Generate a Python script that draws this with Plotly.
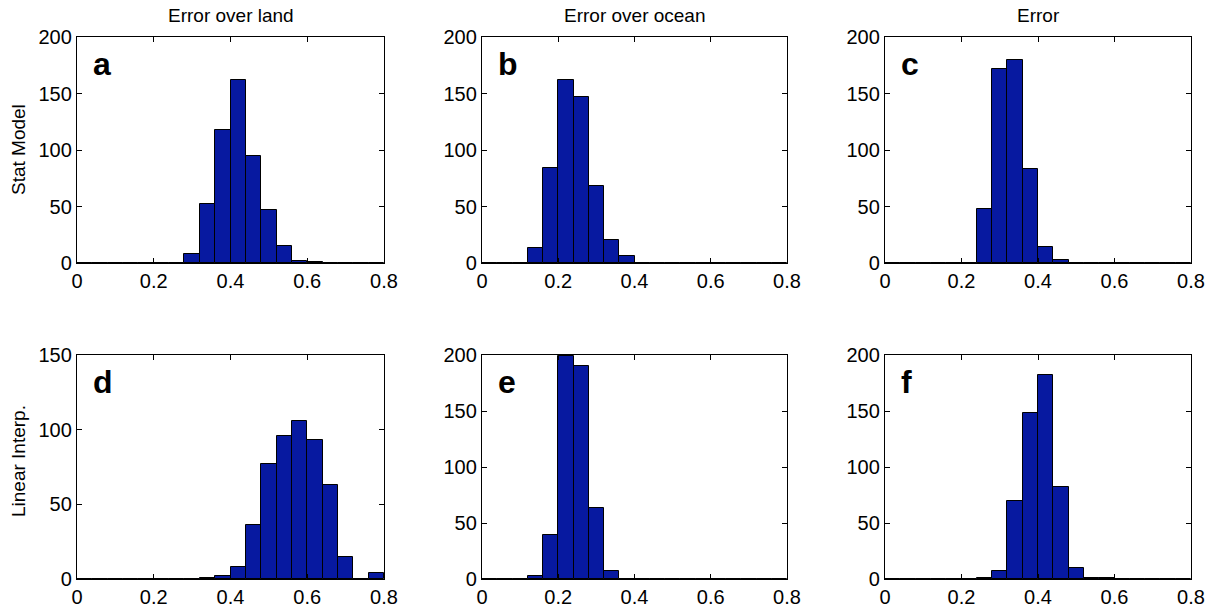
import plotly.graph_objects as go

# Histogram bins: 20 bins of width 0.04 spanning 0 to 0.8
bin_centers = [0.02, 0.06, 0.10, 0.14, 0.18, 0.22, 0.26, 0.30, 0.34, 0.38,
               0.42, 0.46, 0.50, 0.54, 0.58, 0.62, 0.66, 0.70, 0.74, 0.78]
bin_width = 0.04

column_titles = ["Error over land", "Error over ocean", "Error"]
row_labels = ["Stat Model", "Linear Interp."]
panel_letters = ["a", "b", "c", "d", "e", "f"]

# Counts per bin
counts_a = [0, 0, 0, 0, 0, 0, 0, 8, 52, 118, 162, 95, 47, 15, 2, 1, 0, 0, 0, 0]
counts_b = [0, 0, 0, 13, 84, 162, 147, 68, 20, 6, 0, 0, 0, 0, 0, 0, 0, 0, 0, 0]
counts_c = [0, 0, 0, 0, 0, 0, 48, 172, 180, 83, 14, 3, 0, 0, 0, 0, 0, 0, 0, 0]
counts_d = [0, 0, 0, 0, 0, 0, 0, 0, 1, 2, 8, 36, 77, 96, 106, 93, 63, 15, 0, 4]
counts_e = [0, 0, 0, 3, 39, 199, 190, 63, 7, 0, 0, 0, 0, 0, 0, 0, 0, 0, 0, 0]
counts_f = [0, 0, 0, 0, 0, 0, 1, 7, 70, 148, 182, 82, 10, 1, 1, 0, 0, 0, 0, 0]

x_tick_vals = [0, 0.2, 0.4, 0.6, 0.8]
x_tick_text = ["0", "0.2", "0.4", "0.6", "0.8"]
y_max = [200, 200, 200, 150, 200, 200]
y_tick_vals = [[0, 50, 100, 150, 200]] * 3 + [[0, 50, 100, 150]] + [[0, 50, 100, 150, 200]] * 2

all_counts = [counts_a, counts_b, counts_c, counts_d, counts_e, counts_f]

W, H = 1209, 609
# Plot-area rectangles in pixels: (left, right) per column, (top, bottom) per row
col_px = [(77, 384), (482, 787), (885, 1191)]
row_px = [(37, 263), (355, 579)]
row_label_center = [150, 461]

BAR_COLOR = "#0719a0"
FONT = "Liberation Sans, Arial, Helvetica, sans-serif"

fig = go.Figure()
annotations = []

for i, counts in enumerate(all_counts):
    r, c = divmod(i, 3)
    n = i + 1
    xa = "x" if n == 1 else f"x{n}"
    ya = "y" if n == 1 else f"y{n}"
    fig.add_trace(go.Bar(
        x=bin_centers, y=counts, width=bin_width,
        marker=dict(color=BAR_COLOR, line=dict(color="black", width=1)),
        xaxis=xa, yaxis=ya, showlegend=False, hoverinfo="x+y",
    ))
    left, right = col_px[c]
    top, bottom = row_px[r]
    axis_common = dict(
        showline=True, linecolor="black", linewidth=1.3, mirror="ticks",
        ticks="inside", ticklen=5, tickwidth=1, tickcolor="black",
        showgrid=False, zeroline=False, automargin=False,
        tickfont=dict(family=FONT, size=20, color="black"),
    )
    fig.layout[f"xaxis{n if n > 1 else ''}"] = dict(
        axis_common,
        domain=[left / W, right / W], anchor=ya, range=[0, 0.8],
        tickvals=x_tick_vals, ticktext=x_tick_text, ticklabelstandoff=0,
    )
    fig.layout[f"yaxis{n if n > 1 else ''}"] = dict(
        axis_common,
        domain=[1 - bottom / H, 1 - top / H], anchor=xa, range=[0, y_max[i]],
        tickvals=y_tick_vals[i], ticktext=[str(v) for v in y_tick_vals[i]],
        ticklabelstandoff=0,
    )
    # Bold panel letter in the upper-left corner
    annotations.append(dict(
        text=f"<b>{panel_letters[i]}</b>", xref="paper", yref="paper",
        x=(left + 14) / W, y=1 - (top + 27) / H, xanchor="left", yanchor="middle",
        showarrow=False, font=dict(family=FONT, size=32, color="black"),
    ))

for c, title in enumerate(column_titles):
    left, right = col_px[c]
    annotations.append(dict(
        text=title, xref="paper", yref="paper",
        x=(left + right) / 2 / W, y=1 - 16 / H, xanchor="center", yanchor="middle",
        showarrow=False, font=dict(family=FONT, size=19, color="black"),
    ))

for r, label in enumerate(row_labels):
    annotations.append(dict(
        text=label, xref="paper", yref="paper", textangle=-90,
        x=18 / W, y=1 - row_label_center[r] / H, xanchor="center", yanchor="middle",
        showarrow=False, font=dict(family=FONT, size=19, color="black"),
    ))

fig.update_layout(
    width=W, height=H, margin=dict(l=0, r=0, t=0, b=0, autoexpand=False),
    paper_bgcolor="white", plot_bgcolor="white",
    annotations=annotations, bargap=0,
)

# Remove the default page margin so the figure fills the window exactly
fig.write_html(
    "out.html",
    post_script="document.body.style.margin='0';document.body.style.overflow='hidden';",
)
